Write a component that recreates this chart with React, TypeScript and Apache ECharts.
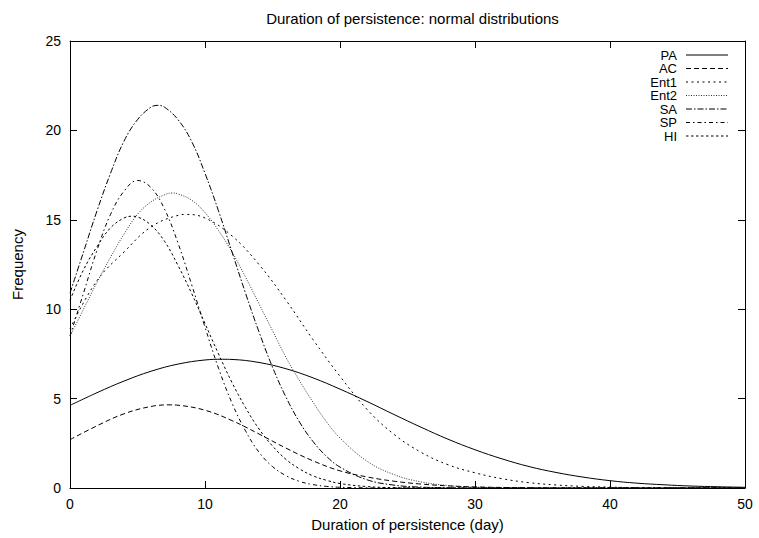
import React, { useEffect, useRef } from "react";
import * as echarts from "echarts";

// ---- data ----
const seriesNames = ["PA", "AC", "Ent1", "Ent2", "SA", "SP", "HI"];

const paDays = [0, 2, 4, 6, 8, 10, 11.3, 12, 14, 16, 18, 20, 22, 24, 26, 28, 30, 32, 34, 36, 38, 40, 42, 44, 46, 48, 50];
const paValues = [4.62, 5.33, 5.98, 6.53, 6.93, 7.16, 7.2, 7.19, 7.02, 6.67, 6.16, 5.53, 4.84, 4.11, 3.4, 2.73, 2.14, 1.63, 1.2, 0.87, 0.61, 0.41, 0.27, 0.18, 0.11, 0.07, 0.04];

const acDays = [0, 2, 4, 6, 7.4, 8, 10, 12, 14, 16, 18, 20, 22, 24, 26, 28, 30, 32, 34, 36, 40, 45, 50];
const acValues = [2.7, 3.48, 4.15, 4.56, 4.65, 4.63, 4.35, 3.77, 3.02, 2.23, 1.52, 0.96, 0.62, 0.38, 0.22, 0.12, 0.06, 0.03, 0.01, 0, 0, 0, 0];

const ent1Days = [0, 2, 4, 6, 8, 8.6, 10, 12, 14, 16, 18, 20, 22, 24, 26, 28, 30, 32, 34, 36, 38, 40, 42, 44, 46, 50];
const ent1Values = [8.9, 11.6, 13.2, 14.6, 15.25, 15.3, 15.1, 14.1, 12.5, 10.5, 8.3, 6.25, 4.4, 3.0, 2.0, 1.3, 0.85, 0.52, 0.3, 0.17, 0.09, 0.05, 0.02, 0.01, 0, 0];

const ent2Days = [0, 1, 2, 3, 4, 5, 6, 7, 7.6, 8, 9, 10, 11, 12, 13, 14, 15, 16, 17, 18, 19, 20, 22, 24, 26, 28, 30, 35, 40, 50];
const ent2Values = [8.5, 10.0, 11.5, 12.9, 14.2, 15.3, 16.0, 16.4, 16.5, 16.45, 16.1, 15.4, 14.4, 13.2, 11.8, 10.3, 8.8, 7.3, 6.0, 4.8, 3.7, 2.8, 1.5, 0.75, 0.34, 0.14, 0.05, 0, 0, 0];

const saDays = [0, 1, 2, 3, 4, 5, 6, 6.5, 7, 8, 9, 10, 11, 12, 13, 14, 15, 16, 17, 18, 19, 20, 22, 24, 26, 28, 30, 35, 40, 50];
const saValues = [10.9, 13.2, 15.5, 17.6, 19.4, 20.6, 21.3, 21.4, 21.3, 20.6, 19.4, 17.6, 15.5, 13.2, 10.9, 8.73, 6.76, 5.08, 3.69, 2.6, 1.77, 1.17, 0.46, 0.16, 0.05, 0.01, 0, 0, 0, 0];

const spDays = [0, 1, 2, 3, 4, 5, 6, 7, 8, 9, 10, 11, 12, 13, 14, 15, 16, 17, 18, 19, 20, 22, 24, 26, 30, 35, 40, 50];
const spValues = [8.5, 10.9, 13.3, 15.3, 16.6, 17.2, 16.8, 15.6, 13.7, 11.4, 9.0, 6.7, 4.75, 3.2, 2.0, 1.2, 0.69, 0.37, 0.19, 0.09, 0.04, 0.01, 0, 0, 0, 0, 0, 0];

const hiDays = [0, 1, 2, 3, 4, 4.6, 5, 6, 7, 8, 9, 10, 11, 12, 13, 14, 15, 16, 17, 18, 19, 20, 22, 24, 26, 30, 35, 40, 50];
const hiValues = [10.5, 12.2, 13.5, 14.55, 15.1, 15.2, 15.16, 14.7, 13.8, 12.45, 10.9, 9.2, 7.5, 5.9, 4.5, 3.3, 2.35, 1.6, 1.07, 0.68, 0.43, 0.25, 0.08, 0.02, 0.01, 0, 0, 0, 0];

const xTicks = { min: 0, max: 50, interval: 10 };
const yTicks = { min: 0, max: 25, interval: 5 };

const FONT = "'Liberation Sans', Arial, Helvetica, sans-serif";

const styles: Record<string, { dash: number[] | "solid"; color: string }> = {
  PA: { dash: "solid", color: "#000" },
  AC: { dash: [5, 3], color: "#000" },
  Ent1: { dash: [2, 3.5], color: "#000" },
  Ent2: { dash: [1, 1.5], color: "#333" },
  SA: { dash: [6, 2, 1.5, 2], color: "#000" },
  SP: { dash: [4, 3, 1.5, 3], color: "#000" },
  HI: { dash: [2.5, 2.5], color: "#000" },
};

function pairs(xs: number[], ys: number[]) {
  return xs.map((x, i) => [x, ys[i]]);
}

export default function App() {
  const ref = useRef<HTMLDivElement>(null);
  useEffect(() => {
    if (!ref.current) return;
    const chart = echarts.init(ref.current, undefined, { renderer: "svg" });
    const dataMap: Record<string, number[][]> = {
      PA: pairs(paDays, paValues),
      AC: pairs(acDays, acValues),
      Ent1: pairs(ent1Days, ent1Values),
      Ent2: pairs(ent2Days, ent2Values),
      SA: pairs(saDays, saValues),
      SP: pairs(spDays, spValues),
      HI: pairs(hiDays, hiValues),
    };
    const gridLeft = 70, gridRight = 14, gridTop = 41, gridBottom = 50;
    const plotCenterX = gridLeft + (759 - gridLeft - gridRight) / 2;
    const legendTextRight = 677;
    const legendLineX1 = 686, legendLineX2 = 728;
    const legendY0 = 55, legendStep = 13.5;
    const legendGraphics: any[] = [];
    seriesNames.forEach((n, i) => {
      const y = legendY0 + i * legendStep;
      legendGraphics.push({
        type: "text",
        x: legendTextRight,
        y,
        style: { text: n, fill: "#000", font: `13px ${FONT}`, textAlign: "right", textVerticalAlign: "middle" },
      });
      const st = styles[n];
      legendGraphics.push({
        type: "line",
        shape: { x1: legendLineX1, y1: y, x2: legendLineX2, y2: y },
        style: { stroke: st.color, lineWidth: 1, lineDash: st.dash === "solid" ? null : st.dash },
      });
    });

    const axisCommon = {
      axisLine: { show: true, onZero: false, lineStyle: { color: "#000", width: 1 } },
      axisTick: { show: true, inside: true, length: 7, lineStyle: { color: "#000", width: 1 } },
      splitLine: { show: false },
    };

    chart.setOption({
      animation: false,
      backgroundColor: "#fff",
      title: {
        text: "Duration of persistence: normal distributions",
        left: plotCenterX,
        textAlign: "center",
        top: 6,
        textStyle: { fontFamily: FONT, fontSize: 15, fontWeight: "normal", color: "#000" },
      },
      grid: { left: gridLeft, right: gridRight, top: gridTop, bottom: gridBottom },
      xAxis: [
        {
          type: "value",
          ...xTicks,
          ...axisCommon,
          position: "bottom",
          axisLabel: { color: "#000", fontFamily: FONT, fontSize: 14, margin: 9 },
          name: "Duration of persistence (day)",
          nameLocation: "middle",
          nameGap: 29,
          nameTextStyle: { color: "#000", fontFamily: FONT, fontSize: 15 },
        },
        {
          type: "value",
          ...xTicks,
          ...axisCommon,
          position: "top",
          axisLabel: { show: false },
        },
      ],
      yAxis: [
        {
          type: "value",
          ...yTicks,
          ...axisCommon,
          position: "left",
          axisLabel: { color: "#000", fontFamily: FONT, fontSize: 14, margin: 9 },
          name: "Frequency",
          nameLocation: "middle",
          nameRotate: 90,
          nameGap: 45,
          nameTextStyle: { color: "#000", fontFamily: FONT, fontSize: 15 },
        },
        {
          type: "value",
          ...yTicks,
          ...axisCommon,
          position: "right",
          axisLabel: { show: false },
        },
      ],
      series: seriesNames.map((n) => ({
        name: n,
        type: "line",
        data: dataMap[n],
        smooth: 0.4,
        showSymbol: false,
        symbol: "none",
        lineStyle: { color: styles[n].color, width: 1, type: styles[n].dash },
        z: 3,
      })),
      graphic: legendGraphics,
    });
    return () => chart.dispose();
  }, []);
  return (
    <div
      ref={ref}
      style={{ position: "absolute", left: 0, top: 0, width: 759, height: 538, background: "#fff" }}
    />
  );
}
